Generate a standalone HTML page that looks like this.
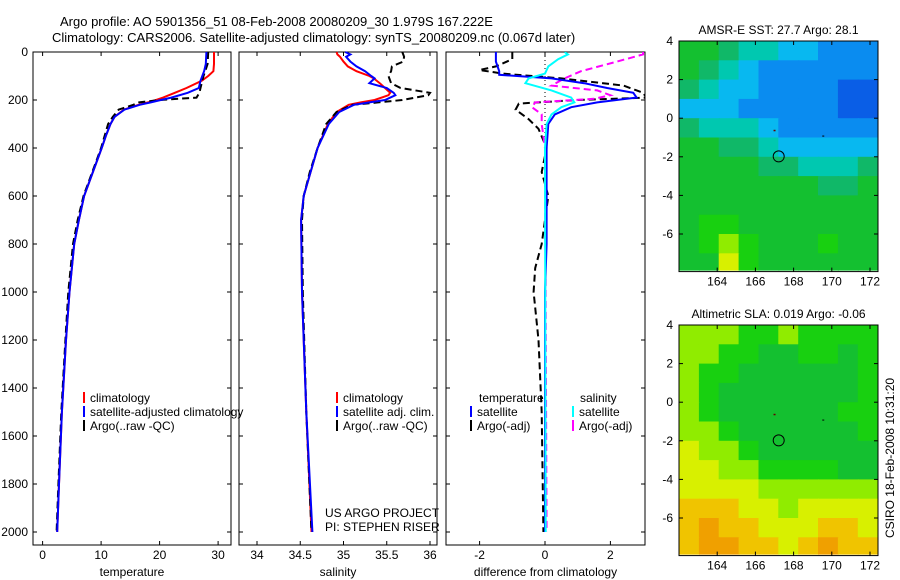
<!DOCTYPE html>
<html><head><meta charset="utf-8"><style>
html,body{margin:0;padding:0;background:#fff;}
svg{display:block;font-family:"Liberation Sans",sans-serif;}
</style></head><body>
<svg id="c" width="900" height="580" viewBox="0 0 900 580"></svg>
<script>
// ---------- data ----------
const tDepths=[0,50,80,100,120,150,170,190,200,210,220,240,270,300,350,400,500,600,700,800,1000,1200,1500,1800,2000];
const tClim=[29.3,29.3,29.2,28.3,27.2,24.6,22.6,20.6,19.4,18.0,16.4,13.9,12.3,11.6,10.8,10.1,8.6,7.1,6.2,5.4,4.6,4.0,3.3,2.8,2.5];
const tSat=[28.0,27.9,27.6,27.3,27.0,26.7,24.8,22.0,20.2,18.5,16.6,14.0,12.3,11.6,10.8,10.1,8.6,7.1,6.2,5.4,4.6,4.0,3.3,2.8,2.5];
const tArgo=[28.3,28.2,27.8,27.5,27.3,27.0,26.8,26.3,20.0,16.5,15.5,13.0,12.0,11.2,10.6,10.0,8.5,7.0,6.0,5.2,4.4,3.9,3.2,2.7,2.4];
const sDepths=[0,10,20,40,60,80,100,110,130,150,170,180,200,210,220,250,300,400,500,600,700,1000,1500,2000];
const sClim=[34.92,34.93,34.96,35.0,35.05,35.15,35.3,35.35,35.42,35.48,35.54,35.52,35.36,35.2,35.06,34.92,34.82,34.7,34.62,34.54,34.51,34.52,34.57,34.63];
const sSat=[35.02,35.08,35.03,35.08,35.15,35.25,35.32,35.36,35.3,35.5,35.58,35.6,35.48,35.3,35.12,34.95,34.83,34.7,34.62,34.54,34.51,34.52,34.57,34.64];
const sArgo=[35.68,35.69,35.7,35.69,35.56,35.55,35.52,35.53,35.55,35.66,36.0,35.98,35.68,35.4,35.1,34.92,34.8,34.7,34.61,34.54,34.52,34.53,34.57,34.63];
const dTDepths=[0,40,80,95,110,130,150,170,190,210,230,260,300,400,600,800,1000,1500,2000];
const dTSat=[-1.5,-1.5,-1.4,-1.4,0.2,1.2,1.9,2.7,2.8,1.6,0.8,0.3,0.1,0.05,0.05,0.05,0,0,0];
const dTADepths=[0,30,60,75,90,110,140,170,190,200,215,240,280,320,400,500,600,700,800,900,1000,1200,1500,2000];
const dTArgo=[-1.0,-1.0,-1.5,-2.0,-1.3,0.5,2.4,3.0,3.1,1.0,-0.8,-0.9,-0.5,-0.2,0.05,-0.1,0.1,0,-0.1,-0.3,-0.35,-0.2,-0.1,-0.05];
const dSDepths=[0,10,30,60,90,110,130,160,190,210,230,260,300,400,2000];
const dSSat=[0.6,0.7,0.4,0.1,0,-0.5,-0.6,0.2,0.8,0.9,0.5,0.2,0.05,0,0.02];
const dSADepths=[0,10,40,80,110,140,160,180,195,210,230,260,300,400,2000];
const dSArgo=[3.0,3.0,2.2,1.1,0.6,0.2,1.6,2.0,1.5,-0.3,-0.4,-0.1,-0.1,0,0.05];
const depthTicks=[0,200,400,600,800,1000,1200,1400,1600,1800,2000];
const tTicks=[0,10,20,30];
const sTicks=[34,34.5,35,35.5,36];
const dTicks=[-2,0,2];
const latTicks=[4,2,0,-2,-4,-6];
const lonTicks=[164,166,168,170,172];
const sstGrid=[
[5,5,4,3,3,2,2,1,1,1],[5,4,3,2,1,1,1,1,1,1],[4,3,2,2,1,1,1,1,0,0],[2,2,2,1,1,1,1,1,0,0],
[4,3,3,3,2,1,1,1,1,1],[5,5,4,4,3,2,2,2,2,2],[5,5,5,5,4,4,3,3,3,4],[5,5,5,5,5,5,5,4,4,5],
[5,5,5,5,5,5,5,5,5,5],[5,6,6,5,5,5,5,5,5,5],[5,6,7,6,5,5,5,6,5,5],[5,5,8,6,5,5,5,5,5,5]];
const slaGrid=[
[7,7,7,6,6,7,6,6,6,6],[7,7,6,6,5,5,6,6,5,6],[7,6,6,5,5,5,5,5,5,6],[7,6,5,5,5,5,5,5,5,6],
[7,6,5,5,5,5,5,5,6,6],[7,7,6,5,5,5,5,5,5,6],[8,7,7,6,5,5,5,5,5,5],[8,8,7,7,6,6,6,6,5,5],
[8,8,8,8,7,7,7,7,7,7],[9,9,9,8,8,7,8,8,8,8],[9,10,9,9,8,8,8,9,9,8],[9,10,10,9,9,8,9,10,9,9]];
const palette=["#0a5ee6","#0a8cf0","#08b8f0","#00c8b0","#10b868","#14c030","#18d010","#90ec00","#d8f000","#f0c400","#f0a000"];

// ---------- helpers ----------
const svg=document.getElementById('c');const NS='http://www.w3.org/2000/svg';
function el(t,a,p){const e=document.createElementNS(NS,t);for(const k in a)e.setAttribute(k,a[k]);(p||svg).appendChild(e);return e;}
function txt(x,y,s,anchor,size,p){const e=el('text',{x:x,y:y,'font-size':size||12,'text-anchor':anchor||'start',fill:'#000'},p);e.textContent=s;return e;}
const plotTop=52, yScale=d=>plotTop+d*0.24, plotBottom=545;

function panel(name,x0,x1,xs,ticks,tickFmt,label,leftLabels){
  const g=el('g',{});
  
  
  el('rect',{x:x0,y:plotTop,width:x1-x0,height:plotBottom-plotTop,fill:'none',stroke:'#000','stroke-width':1},g);
  depthTicks.forEach(d=>{const y=yScale(d);
    el('line',{x1:x0,x2:x0+4,y1:y,y2:y,stroke:'#000'},g);el('line',{x1:x1-4,x2:x1,y1:y,y2:y,stroke:'#000'},g);
    if(leftLabels){const t=txt(x0-5,y+4,String(d),'end',12,g);}});
  ticks.forEach(v=>{const x=xs(v);
    el('line',{x1:x,x2:x,y1:plotTop,y2:plotTop+4,stroke:'#000'},g);el('line',{x1:x,x2:x,y1:plotBottom-4,y2:plotBottom,stroke:'#000'},g);
    const t=txt(x,559,tickFmt(v),'middle',12,g);});
  const l=txt((x0+x1)/2,576,label,'middle',12,g);
  return g;
}
function line(g,depths,vals,xs,color,dash,name,w){
  const pts=depths.map((d,i)=>xs(vals[i]).toFixed(1)+','+yScale(d).toFixed(1)).join(' ');
  const p=el('polyline',{points:pts,fill:'none',stroke:color,'stroke-width':w||2,'stroke-dasharray':dash||'none'},g);
  
  
}
function legend(g,x,y,color,label){
  el('line',{x1:x,x2:x,y1:y-10,y2:y+1,stroke:color,'stroke-width':2},g);
  const t=txt(x+6,y,label,'start',12,g);
  
  
}

// titles
const t1=txt(60,26,'Argo profile: AO 5901356_51 08-Feb-2008 20080209_30 1.979S 167.222E','start',13);

const t2=txt(52,42,'Climatology: CARS2006. Satellite-adjusted climatology: synTS_20080209.nc (0.067d later)','start',13);


// panel 1 temperature
const xT=v=>42.6+v*5.85;
const p1=panel('temperature-panel',33,231,xT,tTicks,v=>String(v),'temperature',true);
line(p1,tDepths,tClim,xT,'#f00',null,'temp-climatology-line');
line(p1,tDepths,tArgo,xT,'#000','7,4','temp-argo-line');
line(p1,tDepths,tSat,xT,'#00f',null,'temp-satellite-line');
legend(p1,84,402,'#f00','climatology');legend(p1,84,416,'#00f','satellite-adjusted climatology');legend(p1,84,430,'#000','Argo(..raw -QC)');

// panel 2 salinity
const xS=v=>257+(v-34)*86.5;
const p2=panel('salinity-panel',239,437,xS,sTicks,v=>String(v),'salinity',false);
line(p2,sDepths,sClim,xS,'#f00',null,'sal-climatology-line');
line(p2,sDepths,sArgo,xS,'#000','7,4','sal-argo-line');
line(p2,sDepths,sSat,xS,'#00f',null,'sal-satellite-line');
legend(p2,337,402,'#f00','climatology');legend(p2,337,416,'#00f','satellite adj. clim.');legend(p2,337,430,'#000','Argo(..raw -QC)');
const u1=txt(325,517,'US ARGO PROJECT','start',12,p2);
const u2=txt(325,531,'PI: STEPHEN RISER','start',12,p2);

// panel 3 differences
const xD=v=>545+v*32.7;
const p3=panel('difference-panel',446,645,xD,dTicks,v=>String(v),'difference from climatology',false);
const cp=el('clipPath',{id:'cp3'},p3);el('rect',{x:446,y:plotTop,width:199,height:plotBottom-plotTop},cp);
const g3=el('g',{'clip-path':'url(#cp3)'},p3);
const zl=el('line',{x1:xD(0),x2:xD(0),y1:plotTop,y2:yScale(2000),stroke:'#000','stroke-dasharray':'1,3'},g3);

line(g3,dTADepths,dTArgo,xD,'#000','7,4','temp-argo-diff-line');
line(g3,dSADepths,dSArgo,xD,'#f0f','7,4','sal-argo-diff-line');
line(g3,dTDepths,dTSat,xD,'#00f',null,'temp-satellite-diff-line');
line(g3,dSDepths,dSSat,xD,'#0ff',null,'sal-satellite-diff-line');
const h1=txt(479,402,'temperature','start',12,p3);
const h2=txt(580,402,'salinity','start',12,p3);
legend(p3,471,416,'#00f','satellite');legend(p3,471,430,'#000','Argo(-adj)');
legend(p3,573,416,'#0ff','satellite');legend(p3,573,430,'#f0f','Argo(-adj)');

// maps
function map(name,y0,grid,title){
  const g=el('g',{});
  
  
  const x0=679,x1=878;const lonX=l=>x0+(l-162.0)*19.1;const latY=l=>y0+(4-l)*19.3;
  const yb=latY(-7.9);
  const id='cl'+y0;const c=el('clipPath',{id:id},g);el('rect',{x:x0,y:y0,width:x1-x0,height:yb-y0},c);
  const cg=el('g',{'clip-path':'url(#'+id+')'},g);
  grid.forEach((row,r)=>row.forEach((v,ci)=>{
    const lon=162.0+ci*1.04, lat=4-r;
    const cell=el('rect',{x:lonX(lon).toFixed(1),y:latY(lat).toFixed(1),width:20.9,height:20.3,fill:palette[v]},cg);
    
    
  }));
  const mb=y0+12*19.3-1;
  el('rect',{x:x0,y:y0,width:x1-x0,height:mb-y0,fill:'none',stroke:'#000'},g);
  latTicks.forEach(l=>{const y=latY(l);el('line',{x1:x0,x2:x0+4,y1:y,y2:y,stroke:'#000'},g);el('line',{x1:x1-4,x2:x1,y1:y,y2:y,stroke:'#000'},g);
    const t=txt(673,y+4,String(l),'end',12,g);});
  lonTicks.forEach(l=>{const x=lonX(l);el('line',{x1:x,x2:x,y1:y0,y2:y0+4,stroke:'#000'},g);el('line',{x1:x,x2:x,y1:mb-4,y2:mb,stroke:'#000'},g);
    const t=txt(x,mb+14,String(l),'middle',12,g);});
  const ci=el('circle',{cx:lonX(167.22),cy:latY(-1.98),r:5.5,fill:'none',stroke:'#000'},g);
  
  el('rect',{x:lonX(166.95),y:latY(-0.6),width:2,height:1.5,fill:'#600'},g);
  el('rect',{x:lonX(169.5),y:latY(-0.9),width:2,height:1,fill:'#000'},g);
  const tt=txt((x0+x1)/2,y0-7,title,'middle',12,g);
}
map('sst-map',41,sstGrid,'AMSR-E SST: 27.7 Argo: 28.1');
map('sla-map',325,slaGrid,'Altimetric SLA: 0.019 Argo: -0.06');
const cs=txt(0,0,'CSIRO 18-Feb-2008 10:31:20','middle',12);
cs.setAttribute('transform','translate(894,458) rotate(-90)');

</script>
</body></html>
